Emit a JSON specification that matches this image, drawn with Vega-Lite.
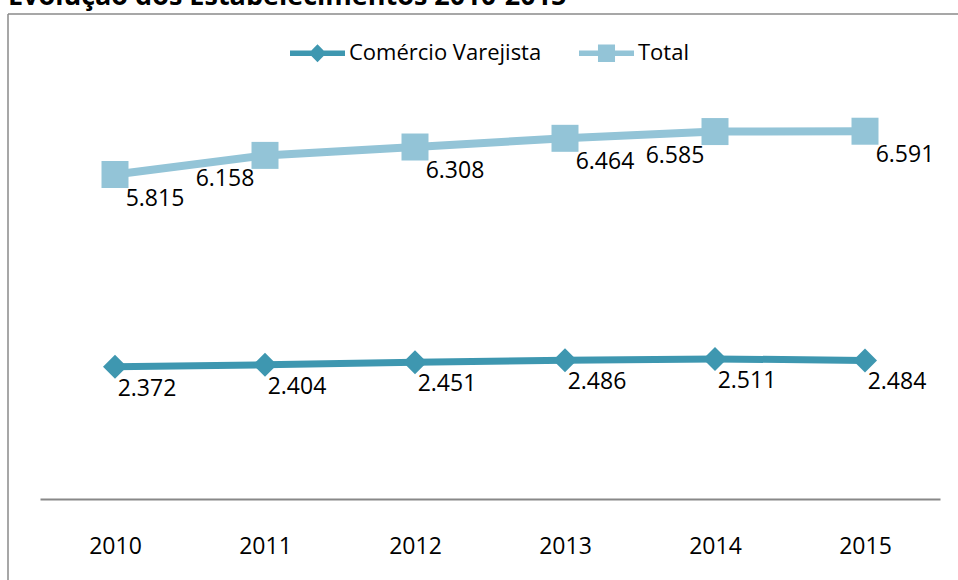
{
  "$schema": "https://vega.github.io/schema/vega-lite/v6.json",
  "autosize": {"type": "none"},
  "width": 950,
  "height": 566,
  "padding": {"left": 8, "top": 14, "right": 0, "bottom": 0},
  "background": "white",
  "title": {
    "text": "Evolução dos Estabelecimentos 2010-2015",
    "anchor": "start",
    "frame": "group",
    "offset": 7,
    "dy": 25,
    "baseline": "alphabetic",
    "font": "Open Sans",
    "fontSize": 27,
    "fontWeight": "bold",
    "color": "#000000"
  },
  "config": {
    "locale": {"number": {"decimal": ",", "thousands": ".", "grouping": [3], "currency": ["R$", ""]}},
    "view": {"stroke": "#8a8a8a", "strokeWidth": 1.5, "strokeDash": [950, 1516, 566, 0]},
    "font": "Open Sans"
  },
  "data": {
    "values": [
      {"ano": "2010", "serie": "Comércio Varejista", "valor": 2372},
      {"ano": "2011", "serie": "Comércio Varejista", "valor": 2404},
      {"ano": "2012", "serie": "Comércio Varejista", "valor": 2451},
      {"ano": "2013", "serie": "Comércio Varejista", "valor": 2486},
      {"ano": "2014", "serie": "Comércio Varejista", "valor": 2511},
      {"ano": "2015", "serie": "Comércio Varejista", "valor": 2484},
      {"ano": "2010", "serie": "Total", "valor": 5815},
      {"ano": "2011", "serie": "Total", "valor": 6158},
      {"ano": "2012", "serie": "Total", "valor": 6308},
      {"ano": "2013", "serie": "Total", "valor": 6464},
      {"ano": "2014", "serie": "Total", "valor": 6585},
      {"ano": "2015", "serie": "Total", "valor": 6591}
    ]
  },
  "encoding": {
    "x": {
      "field": "ano",
      "type": "ordinal",
      "scale": {"type": "point", "padding": 0.5, "range": [32, 932]},
      "axis": {
        "title": null,
        "offset": -81,
        "domainColor": "#888888",
        "domainWidth": 2,
        "ticks": false,
        "grid": false,
        "labelAngle": 0,
        "labelFont": "Open Sans",
        "labelFontSize": 23,
        "labelColor": "#000000",
        "labelBaseline": "middle",
        "labelPadding": 47
      }
    },
    "y": {
      "field": "valor",
      "type": "quantitative",
      "scale": {"domain": [0, 8000], "range": [485, 38.6], "nice": false, "zero": false},
      "axis": null
    }
  },
  "layer": [
    {
      "transform": [{"filter": "datum.serie === 'Total'"}],
      "mark": {"type": "line", "strokeWidth": 8},
      "encoding": {
        "color": {
          "field": "serie",
          "type": "nominal",
          "scale": {"domain": ["Comércio Varejista", "Total"], "range": ["#3E97B0", "#93C4D7"]},
          "legend": {
            "orient": "none",
            "legendX": 282,
            "legendY": 11.5,
            "direction": "horizontal",
            "title": null,
            "padding": 0,
            "symbolSize": 3025,
            "labelFont": "Open Sans",
            "labelFontSize": 22,
            "labelColor": "#000000",
            "labelOffset": 4,
            "labelLimit": 400,
            "columnPadding": 37,
            "encode": {
              "symbols": {
                "update": {
                  "shape": {"signal": "datum.value === 'Total' ? 'M-1,-0.1H1V0.1H-1Z M-0.31,-0.32H0.31V0.32H-0.31Z' : 'M-1,-0.1H1V0.1H-1Z M0,-0.33L0.32,0L0,0.33L-0.32,0Z'"},
                  "fill": {"signal": "datum.value === 'Total' ? '#93C4D7' : '#3E97B0'"},
                  "stroke": {"value": "transparent"},
                  "strokeWidth": {"value": 0},
                  "opacity": {"value": 1},
                  "fillOpacity": {"value": 1}
                }
              }
            }
          }
        }
      }
    },
    {
      "transform": [{"filter": "datum.serie === 'Comércio Varejista'"}],
      "mark": {"type": "line", "strokeWidth": 7},
      "encoding": {"color": {"field": "serie", "type": "nominal"}}
    },
    {
      "transform": [{"filter": "datum.serie === 'Total'"}],
      "mark": {"type": "point", "shape": "square", "filled": true, "opacity": 1, "size": 729},
      "encoding": {"color": {"field": "serie", "type": "nominal"}}
    },
    {
      "transform": [{"filter": "datum.serie === 'Comércio Varejista'"}],
      "mark": {"type": "point", "shape": "diamond", "filled": true, "opacity": 1, "size": 576},
      "encoding": {"color": {"field": "serie", "type": "nominal"}}
    },
    {
      "transform": [{"filter": "datum.serie === 'Comércio Varejista'"}],
      "mark": {"type": "text", "dx": 32, "dy": 22, "font": "Open Sans", "fontSize": 23, "color": "#000000", "baseline": "middle"},
      "encoding": {"text": {"field": "valor", "type": "quantitative", "format": ","}}
    },
    {
      "transform": [{"filter": "datum.serie === 'Total' && datum.ano !== '2011' && datum.ano !== '2014'"}],
      "mark": {"type": "text", "dx": 40, "dy": 24, "font": "Open Sans", "fontSize": 23, "color": "#000000", "baseline": "middle"},
      "encoding": {"text": {"field": "valor", "type": "quantitative", "format": ","}}
    },
    {
      "transform": [{"filter": "datum.serie === 'Total' && (datum.ano === '2011' || datum.ano === '2014')"}],
      "mark": {"type": "text", "dx": -40, "dy": 24, "font": "Open Sans", "fontSize": 23, "color": "#000000", "baseline": "middle"},
      "encoding": {"text": {"field": "valor", "type": "quantitative", "format": ","}}
    }
  ]
}
